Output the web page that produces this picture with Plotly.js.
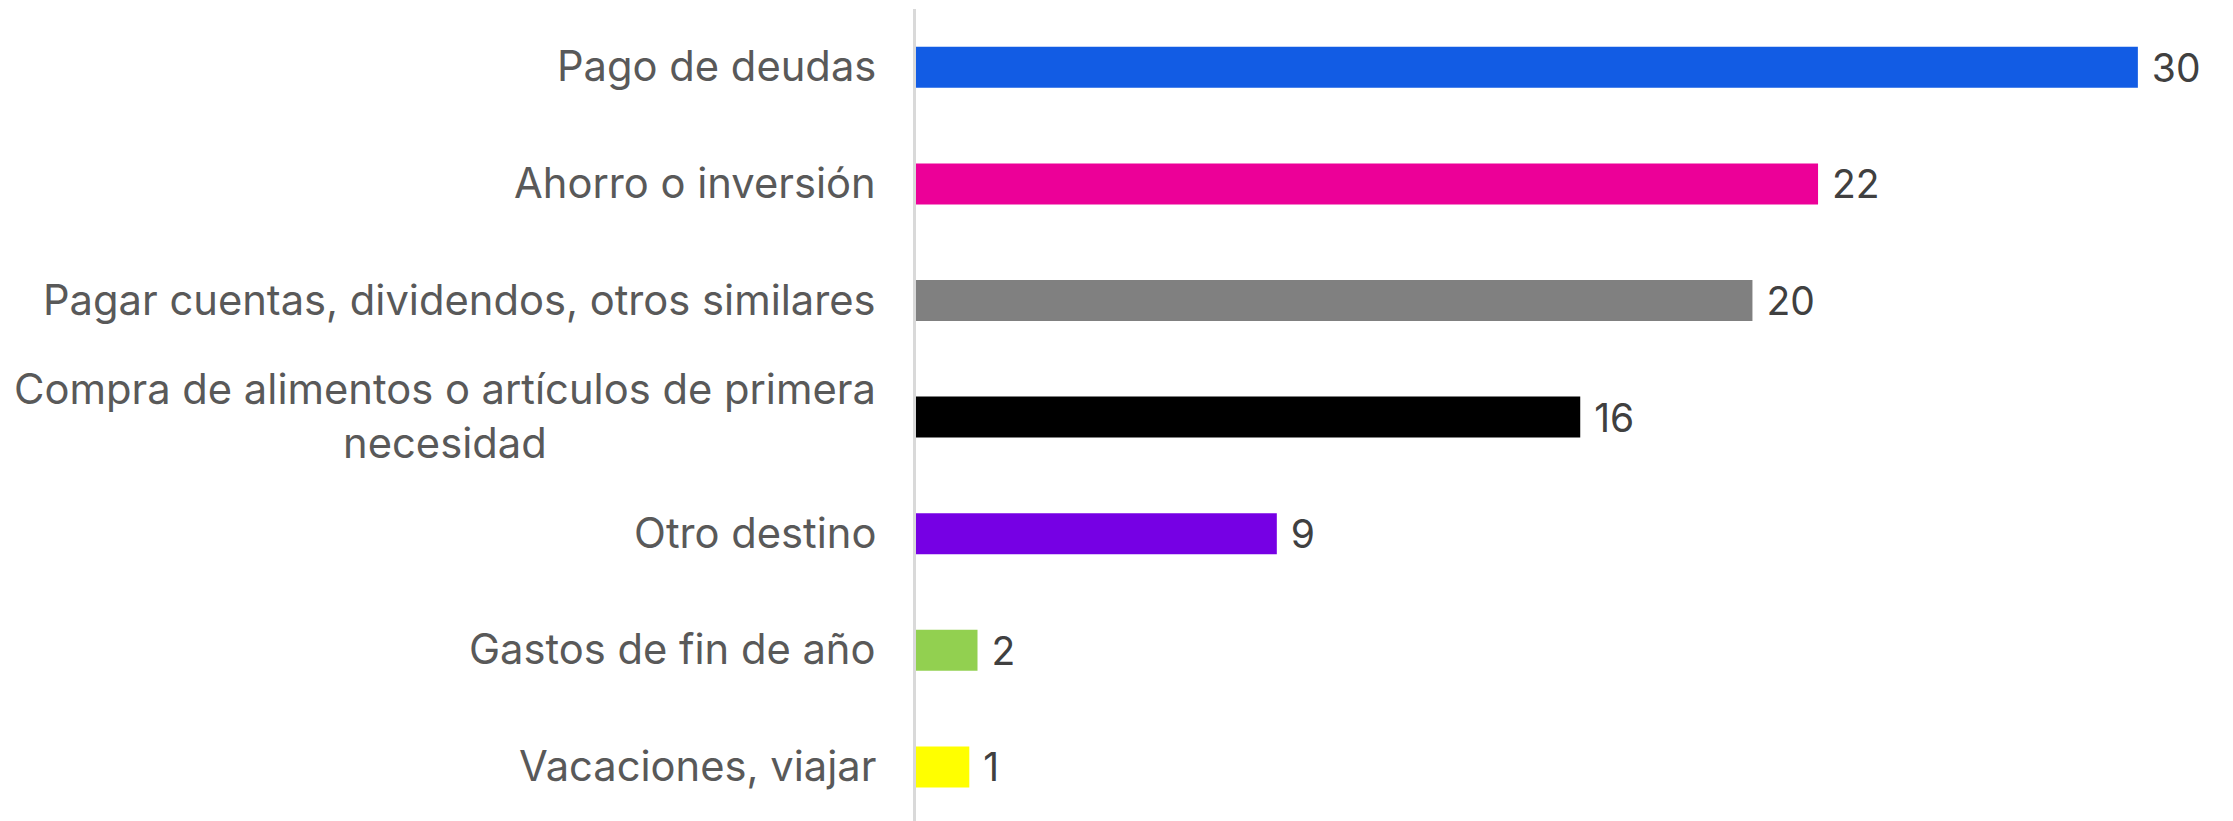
<!DOCTYPE html>
<html>
<head>
<meta charset="utf-8">
<script src="https://cdn.plot.ly/plotly-3.0.1.min.js"></script>
<style>
html,body{margin:0;padding:0;background:#fff;}
#chart{width:2233px;height:821px;}
</style>
</head>
<body>
<div id="chart"></div>
<script>
const categories = [
  "Pago de deudas",
  "Ahorro o inversión",
  "Pagar cuentas, dividendos, otros similares",
  "Compra de alimentos o artículos de primera<br>necesidad",
  "Otro destino",
  "Gastos de fin de año",
  "Vacaciones, viajar"
];
const values = [29.8, 22.0, 20.4, 16.2, 8.8, 1.5, 1.3];
const barColors = ["#125CE4", "#EC0098", "#808080", "#000000", "#7600E4", "#92D050", "#FFFF00"];

const FONT = "Inter, 'Open Sans', sans-serif";
const ids = categories.map((c, i) => "c" + i);

const trace = {
  type: "bar",
  orientation: "h",
  y: ids,
  x: values,
  marker: {color: barColors},
  texttemplate: "\u00a0%{x:.0f}",
  textposition: "outside",
  textfont: {family: FONT, size: 39, color: "#404040"},
  constraintext: "none",
  cliponaxis: false,
  hoverinfo: "none"
};

const annotations = categories.map((c, i) => ({
  xref: "paper", yref: "y",
  x: 0, y: ids[i],
  xanchor: "right", yanchor: "middle",
  xshift: -38,
  yshift: 1,
  align: "center",
  text: c,
  showarrow: false,
  font: {family: FONT, size: 41.7, color: "#595959"}
}));

const layout = {
  width: 2233, height: 821,
  margin: {l: 916, r: 0, t: 9, b: 0, pad: 0},
  paper_bgcolor: "#ffffff",
  plot_bgcolor: "#ffffff",
  showlegend: false,
  bargap: 0.648,
  xaxis: {range: [0, 32.12], showgrid: false, zeroline: false, showticklabels: false, showline: false, fixedrange: true},
  yaxis: {
    type: "category",
    categoryorder: "array", categoryarray: ids,
    range: [6.464, -0.5],
    showticklabels: false, showgrid: false, zeroline: false,
    showline: true, linecolor: "#d9d9d9", linewidth: 3,
    ticks: "", fixedrange: true
  },
  annotations: annotations
};

Plotly.newPlot("chart", [trace], layout, {displayModeBar: false, staticPlot: true});
</script>
</body>
</html>
